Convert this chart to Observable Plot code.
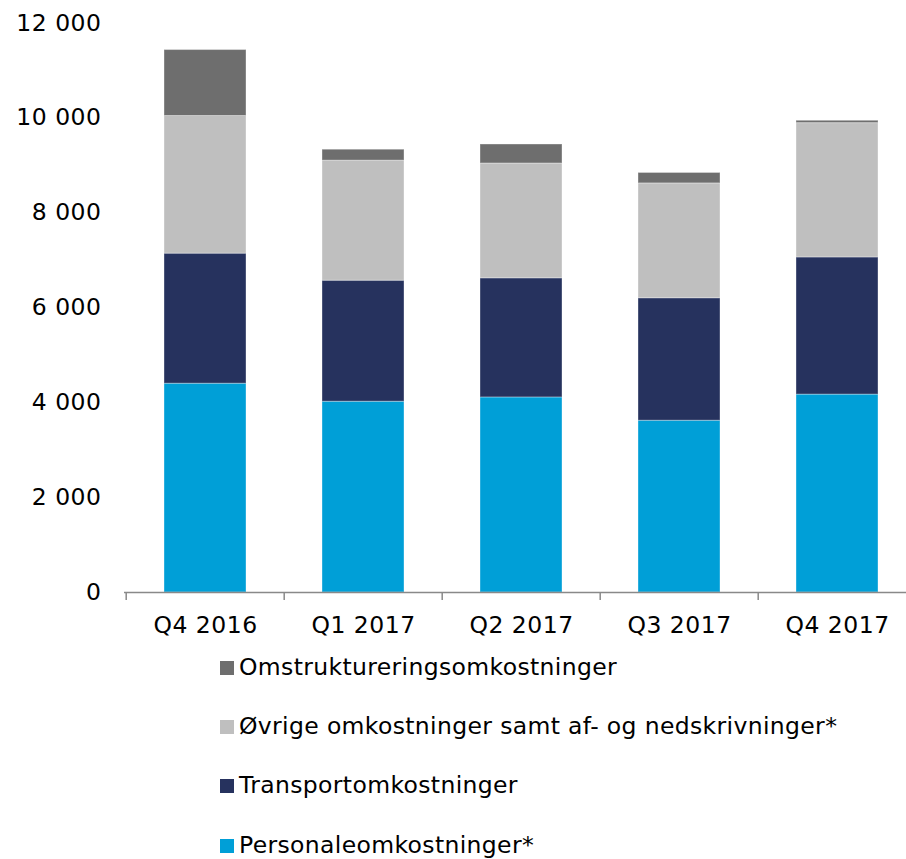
<!DOCTYPE html>
<html><head><meta charset="utf-8">
<script src="https://cdn.jsdelivr.net/npm/d3@7"></script>
<script src="https://cdn.jsdelivr.net/npm/@observablehq/plot@0.6"></script>
<style>
html,body{margin:0;padding:0;background:#fff;overflow:hidden;}
#chart svg{display:block;}
#chart svg text{letter-spacing:0.5px;}
.legend{padding-left:220px;font-family:"DejaVu Sans",Verdana,sans-serif;font-size:23.5px;letter-spacing:0.35px;color:#000;}
.row{display:flex;align-items:center;height:59.3px;line-height:1;}
.sw{width:14px;height:14px;margin-right:5px;flex:none;}
</style></head><body>
<div id="chart"></div>
<div class="legend" id="legend"></div>
<script>
const quarters = ["Q4 2016","Q1 2017","Q2 2017","Q3 2017","Q4 2017"];
const seriesNames = ["Personaleomkostninger*","Transportomkostninger","Øvrige omkostninger samt af- og nedskrivninger*","Omstruktureringsomkostninger"];
const personale = [4400,4020,4110,3620,4170];
const transport = [2740,2550,2510,2580,2890];
const ovrige = [2900,2530,2420,2420,2830];
const omstrukturering = [1390,230,400,220,50];
const yTicks = [0,2000,4000,6000,8000,10000,12000];
const colors = ["#009FD7","#26325E","#BFBFBF","#6E6E6E"];

const seriesValues = [personale, transport, ovrige, omstrukturering];
const data = [];
seriesNames.forEach((s, si) => quarters.forEach((q, qi) => data.push({q, s, v: seriesValues[si][qi]})));

const W = 906, H = 638, mL = 124, mR = -11, mT = 22.5, mB = 46;
const yMax = 12000;
const step = (W - mR - mL) / quarters.length;
const tickUnits = 8 * yMax / (H - mT - mB);
const fmt = d => d3.format(",")(d).replace(/,/g, " ");

const plot = Plot.plot({
  width: W, height: H,
  marginLeft: mL, marginRight: mR, marginTop: mT, marginBottom: mB,
  style: {fontFamily: '"DejaVu Sans", Verdana, sans-serif', fontSize: "23.5px", color: "#000", background: "#fff", overflow: "hidden"},
  x: {domain: quarters, paddingInner: 0.483, paddingOuter: 0.2415, tickSize: 0, tickPadding: 23.5, label: null},
  y: {domain: [0, yMax], ticks: yTicks, tickSize: 0, tickPadding: 23, tickFormat: fmt, label: null},
  color: {domain: seriesNames, range: colors},
  marks: [
    Plot.barY(data, {x: "q", y: "v", fill: "s", stroke: "#fff", strokeOpacity: 0.35, strokeWidth: 1}),
    Plot.ruleY([0], {stroke: "#898989", strokeWidth: 1.5}),
    Plot.ruleX(quarters, {x: d => d, y1: 0, y2: -tickUnits, dx: -step / 2, stroke: "#898989", strokeWidth: 1.5})
  ]
});
document.getElementById("chart").appendChild(plot);

const legend = document.getElementById("legend");
[...seriesNames].reverse().forEach(name => {
  const row = document.createElement("div");
  row.className = "row";
  const sw = document.createElement("span");
  sw.className = "sw";
  sw.style.background = colors[seriesNames.indexOf(name)];
  const t = document.createElement("span");
  t.textContent = name;
  row.appendChild(sw); row.appendChild(t);
  legend.appendChild(row);
});
</script>
</body></html>
